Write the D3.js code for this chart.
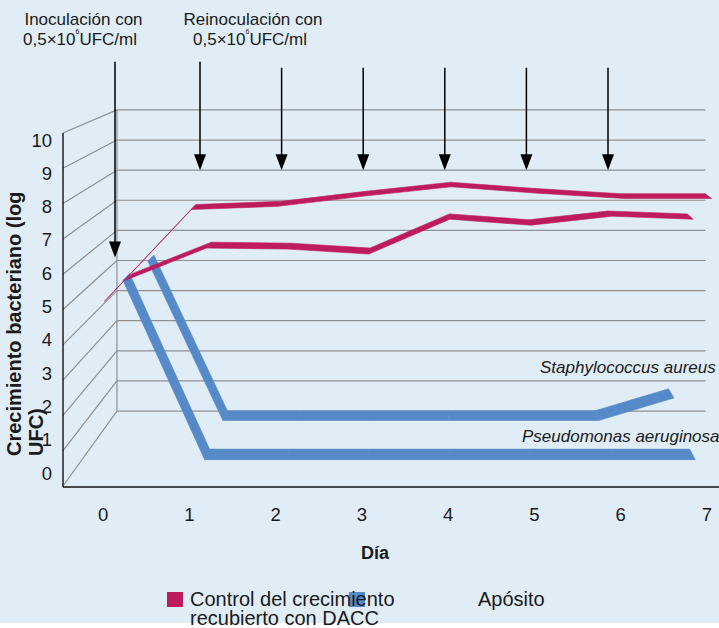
<!DOCTYPE html>
<html><head><meta charset="utf-8">
<script src="https://cdn.jsdelivr.net/npm/d3@7"></script>
<style>
body{margin:0;background:#fff}
svg{display:block}
text{font-family:"Liberation Sans",Arial,sans-serif;fill:#1a1a1a}
</style>
</head><body>
<svg id="chart" width="719" height="628"></svg>
<script>
// ---------- data ----------
const days = [0, 1, 2, 3, 4, 5, 6, 7];
const yTickValues = [0, 1, 2, 3, 4, 5, 6, 7, 8, 9, 10];
// Control del crecimiento (two ribbons, front and back)
const controlFront = [5.28, 7.87, 7.96, 8.25, 8.51, 8.33, 8.18, 8.18];
const controlBack  = [5.28, 6.25, 6.22, 6.07, 7.12, 6.94, 7.21, 7.12];
// Apósito recubierto con DACC
const dressingPseudomonas = [5.36, 0, 0, 0, 0, 0, 0, 0];
const dressingStaphylococcus = [5.18, 0, 0, 0, 0, 0, 0, 0.73];
// annotations (arrows): day, start and end level on the back wall (log UFC)
const arrowDays = [0, 1, 2, 3, 4, 5, 6];
const arrowFrom = [11.6, 11.6, 11.4, 11.4, 11.4, 11.4, 11.4];
const arrowTo   = [5.1, 8, 8, 8, 8, 8, 8];
const speciesLabels = ["Staphylococcus aureus", "Pseudomonas aeruginosa"];

// ---------- layout ----------
const W = 719, H = 628;
const MAGENTA = "#BD1B5C", BLUE = "#5589C8", BG = "#E0EDF6", GRID = "#8f8f8f";
const svg = d3.select("#chart");

svg.append("rect").attr("x", 0).attr("y", 0).attr("width", W).attr("height", 623).attr("fill", BG);

// front plane scales + perspective toward a vanishing point
const xFront = d3.scaleBand().domain(days).range([63, 753]);
const yFront = d3.scaleLinear().domain([0, 10]).range([486, 133]);
const vp = [430, -24];
const kBack = 0.853;
function proj(d, v, k) {
  const X = xFront(d) + xFront.bandwidth() / 2, Y = yFront(v);
  return [vp[0] + k * (X - vp[0]), vp[1] + k * (Y - vp[1])];
}
function projEdge(X, v, k) {
  const Y = yFront(v);
  return [vp[0] + k * (X - vp[0]), vp[1] + k * (Y - vp[1])];
}
const yBack = d3.scaleLinear().domain([0, 10]).range([projEdge(63, 0, kBack)[1], projEdge(63, 10, kBack)[1]]);
const xLeft = xFront.range()[0], xRight = xFront.range()[1];

// ---------- walls ----------
const grid = svg.append("g").attr("stroke", GRID).attr("stroke-width", 1.2).attr("fill", "none");
yTickValues.forEach(v => {
  const bl = projEdge(xLeft, v, kBack), br = projEdge(xRight, v, kBack);
  grid.append("line").attr("x1", bl[0]).attr("y1", bl[1]).attr("x2", br[0]).attr("y2", br[1]);
  const fl = projEdge(xLeft, v, 1);
  grid.append("line").attr("x1", fl[0]).attr("y1", fl[1]).attr("x2", bl[0]).attr("y2", bl[1]);
});
{
  const t = projEdge(xLeft, 10, kBack), b = projEdge(xLeft, 0, kBack);
  grid.append("line").attr("x1", t[0]).attr("y1", t[1]).attr("x2", b[0]).attr("y2", b[1]);
}

// front axes
const axisG = svg.append("g").attr("stroke", "#111").attr("stroke-width", 1.4);
axisG.append("line").attr("x1", xLeft).attr("y1", yFront(10)).attr("x2", xLeft).attr("y2", yFront(0) + 1);
axisG.append("line").attr("x1", xLeft).attr("y1", yFront(0) + 1).attr("x2", W).attr("y2", yFront(0) + 1);

// ---------- ribbons ----------
const series = [
  {values: dressingStaphylococcus, color: BLUE, k: 0.862},
  {values: dressingPseudomonas, color: BLUE, k: 0.938},
  {values: controlBack, color: MAGENTA, k: 0.93},
  {values: controlFront, color: MAGENTA, k: 0.995}
];
const halfDepth = 0.011;
const line = d3.line();
series.forEach(s => {
  const g = svg.append("g");
  const kb = s.k * (1 - halfDepth), kf = s.k * (1 + halfDepth);
  for (let i = 0; i < days.length - 1; i++) {
    const a = days[i], b = days[i + 1];
    const pts = [
      proj(a, s.values[i], kb), proj(b, s.values[i + 1], kb),
      proj(b, s.values[i + 1], kf), proj(a, s.values[i], kf)
    ];
    g.append("path").attr("d", line(pts) + "Z")
      .attr("fill", s.color).attr("stroke", s.color)
      .attr("stroke-width", 0.6).attr("stroke-linejoin", "round");
  }
});

// ---------- tick labels ----------
const yLabel = d3.scaleLinear().domain([0, 10]).range([473, 140]);
svg.append("g").selectAll("text").data(yTickValues).join("text")
  .attr("x", 52).attr("y", d => yLabel(d) + 6.5)
  .attr("text-anchor", "end").attr("font-size", 18.5).text(d => d);
svg.append("g").selectAll("text").data(days).join("text")
  .attr("x", d => xFront(d) + xFront.bandwidth() / 2 - 3).attr("y", 521)
  .attr("text-anchor", "middle").attr("font-size", 18.5).text(d => d);

svg.append("text").attr("x", 375).attr("y", 559).attr("text-anchor", "middle")
  .attr("font-size", 18).attr("font-weight", "bold").text("Día");

svg.append("text").attr("transform", "translate(21,456) rotate(-90)")
  .attr("font-size", 20).attr("font-weight", "bold").text("Crecimiento bacteriano (log");
svg.append("text").attr("transform", "translate(43,456) rotate(-90)")
  .attr("font-size", 20).attr("font-weight", "bold").text("UFC)");

// species labels
svg.append("text").attr("x", 540).attr("y", 373).attr("font-size", 17)
  .attr("font-style", "italic").text(speciesLabels[0]);
svg.append("text").attr("x", 522).attr("y", 442).attr("font-size", 17)
  .attr("font-style", "italic").text(speciesLabels[1]);

// ---------- arrows ----------
const arrowX = d3.scaleLinear().domain([0, 1, 6]).range([115, 200, 608]);
const arrows = svg.append("g");
arrowDays.forEach((d, i) => {
  const x = arrowX(d), y0 = yBack(arrowFrom[i]), y1 = yBack(arrowTo[i]);
  arrows.append("line").attr("x1", x).attr("y1", y0).attr("x2", x).attr("y2", y1 - 14)
    .attr("stroke", "#000").attr("stroke-width", 1.5);
  arrows.append("path").attr("d", line([[x - 6, y1 - 16], [x + 6, y1 - 16], [x, y1]]) + "Z").attr("fill", "#000");
});

// top annotations
function annot(x, text1, x2) {
  svg.append("text").attr("x", x).attr("y", 25).attr("text-anchor", "middle").attr("font-size", 17).text(text1);
  const t = svg.append("text").attr("x", x2).attr("y", 45).attr("text-anchor", "middle").attr("font-size", 17);
  t.append("tspan").text("0,5×10");
  t.append("tspan").attr("font-size", 7).attr("dy", -11).text("6");
  t.append("tspan").attr("dy", 11).text("UFC/ml");
}
annot(83.5, "Inoculación con", 80);
annot(253, "Reinoculación con", 250);

// ---------- legend ----------
svg.append("rect").attr("x", 167).attr("y", 592).attr("width", 16).attr("height", 15).attr("fill", MAGENTA);
svg.append("rect").attr("x", 349).attr("y", 592).attr("width", 16).attr("height", 15).attr("fill", BLUE);
svg.append("text").attr("x", 190).attr("y", 606).attr("font-size", 20).text("Control del crecimiento");
svg.append("text").attr("x", 190).attr("y", 625).attr("font-size", 20).text("recubierto con DACC");
svg.append("text").attr("x", 478).attr("y", 606).attr("font-size", 20).text("Apósito");
</script>
</body></html>
